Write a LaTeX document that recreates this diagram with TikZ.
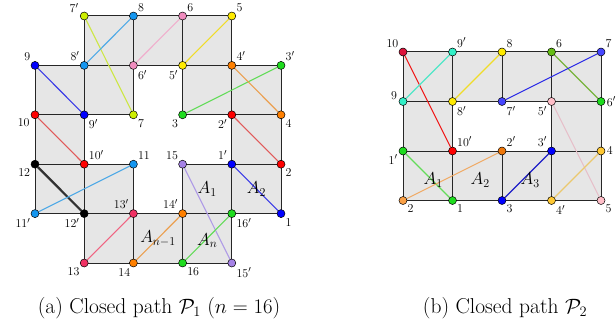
\documentclass[tikz,border=0pt]{standalone}
\usetikzlibrary{backgrounds}
\definecolor{gcell}{RGB}{230,230,230}
\definecolor{cLime}{RGB}{204,238,0}\definecolor{lLime}{RGB}{205,230,70}
\definecolor{cLblue}{RGB}{20,150,240}\definecolor{lLblue}{RGB}{80,170,230}
\definecolor{cPink}{RGB}{240,140,190}\definecolor{lPink}{RGB}{240,175,205}
\definecolor{cYel}{RGB}{255,235,0}\definecolor{lYel}{RGB}{240,220,40}
\definecolor{cBlue}{RGB}{0,0,255}\definecolor{lBlue}{RGB}{60,60,230}
\definecolor{cGreen}{RGB}{30,220,30}\definecolor{lGreen}{RGB}{100,220,90}
\definecolor{cOrange}{RGB}{255,128,0}\definecolor{lOrange}{RGB}{235,160,80}
\definecolor{cRed}{RGB}{255,0,0}\definecolor{lRed}{RGB}{225,90,90}
\definecolor{lBlack}{RGB}{50,50,50}
\definecolor{cCrim}{RGB}{240,50,100}\definecolor{lCrim}{RGB}{240,100,130}
\definecolor{cPurp}{RGB}{165,130,230}\definecolor{lPurp}{RGB}{175,155,230}
\definecolor{cCrimB}{RGB}{220,20,60}\definecolor{lRedB}{RGB}{240,20,20}
\definecolor{cTurq}{RGB}{50,240,200}\definecolor{lTurq}{RGB}{80,230,200}
\definecolor{cOlive}{RGB}{100,190,20}\definecolor{lOlive}{RGB}{120,180,60}
\definecolor{cBlueB}{RGB}{70,70,255}\definecolor{lBlueB}{RGB}{40,40,230}
\definecolor{cPinkL}{RGB}{255,190,200}\definecolor{lPinkL}{RGB}{230,190,200}
\definecolor{cOrD}{RGB}{240,120,10}\definecolor{cOrL}{RGB}{250,160,70}\definecolor{lOrL}{RGB}{240,170,100}
\definecolor{lBlueD}{RGB}{30,30,200}
\definecolor{cGold}{RGB}{255,200,50}\definecolor{lGold}{RGB}{235,200,110}
\begin{document}
\begin{tikzpicture}[x=1pt,y=-1pt,
  vtx/.style={circle,draw=black,line width=0.5pt,minimum size=8pt,inner sep=0pt},
  lab/.style={font=\fontsize{13}{13}\selectfont,inner sep=1.5pt},
  alab/.style={font=\fontsize{17.5}{18}\selectfont,inner sep=0pt},
  cellbox/.style={draw=black!85,fill=gcell,line width=1pt},
  dg/.style={line width=1.1pt},
  captext/.style={font=\fontsize{21.5}{24}\selectfont,anchor=base,inner sep=0pt}]
\useasboundingbox (0,0) rectangle (616,329);
% ---------------- left figure ----------------
\begin{scope}[shift={(35pt,-16pt)},x=49.2pt,y=-49.4pt]
\node[vtx,fill=cLime,label={[lab]158:$7'$}] (a7p) at (1,0) {};
\node[vtx,fill=cLblue,label={[lab]45:$8$}] (a8) at (2,0) {};
\node[vtx,fill=cPink,label={[lab]45:$6$}] (a6) at (3,0) {};
\node[vtx,fill=cYel,label={[lab]45:$5$}] (a5) at (4,0) {};
\node[vtx,fill=cBlue,label={[lab]135:$9$}] (a9) at (0,1) {};
\node[vtx,fill=cLblue,label={[lab]135:$8'$}] (a8p) at (1,1) {};
\node[vtx,fill=cPink,label={[lab]-45:$6'$}] (a6p) at (2,1) {};
\node[vtx,fill=cYel,label={[lab]-135:$5'$}] (a5p) at (3,1) {};
\node[vtx,fill=cOrange,label={[lab]45:$4'$}] (a4p) at (4,1) {};
\node[vtx,fill=cGreen,label={[lab]45:$3'$}] (a3p) at (5,1) {};
\node[vtx,fill=cRed,label={[lab]-150:$10$}] (a10) at (0,2) {};
\node[vtx,fill=cBlue,label={[lab]-45:$9'$}] (a9p) at (1,2) {};
\node[vtx,fill=cLime,label={[lab]-45:$7$}] (a7) at (2,2) {};
\node[vtx,fill=cGreen,label={[lab]-135:$3$}] (a3) at (3,2) {};
\node[vtx,fill=cRed,label={[lab]-135:$2'$}] (a2p) at (4,2) {};
\node[vtx,fill=cOrange,label={[lab]-45:$4$}] (a4) at (5,2) {};
\node[vtx,fill=black,label={[lab]-140:$12$}] (a12) at (0,3) {};
\node[vtx,fill=cRed,label={[lab]45:$10'$}] (a10p) at (1,3) {};
\node[vtx,fill=cLblue,label={[lab]45:$11$}] (a11) at (2,3) {};
\node[vtx,fill=cPurp,label={[lab]135:$15$}] (a15) at (3,3) {};
\node[vtx,fill=cBlue,label={[lab]135:$1'$}] (a1p) at (4,3) {};
\node[vtx,fill=cRed,label={[lab]-45:$2$}] (a2) at (5,3) {};
\node[vtx,fill=cLblue,label={[lab]-135:$11'$}] (a11p) at (0,4) {};
\node[vtx,fill=black,label={[lab]-135:$12'$}] (a12p) at (1,4) {};
\node[vtx,fill=cCrim,label={[lab]135:$13'$}] (a13p) at (2,4) {};
\node[vtx,fill=cOrange,label={[lab]135:$14'$}] (a14p) at (3,4) {};
\node[vtx,fill=cGreen,label={[lab]-45:$16'$}] (a16p) at (4,4) {};
\node[vtx,fill=cBlue,label={[lab]-45:$1$}] (a1) at (5,4) {};
\node[vtx,fill=cCrim,label={[lab]-135:$13$}] (a13) at (1,5) {};
\node[vtx,fill=cOrange,label={[lab]-110:$14$}] (a14) at (2,5) {};
\node[vtx,fill=cGreen,label={[lab]-45:$16$}] (a16) at (3,5) {};
\node[vtx,fill=cPurp,label={[lab]-45:$15'$}] (a15p) at (4,5) {};
\node[alab] (A1) at (3.5,3.5) {$A_1$};
\node[alab] (A2) at (4.5,3.5) {$A_2$};
\node[alab] (Anm) at (2.5,4.5) {$A_{n-1}$};
\node[alab] (An) at (3.5,4.55) {$A_n$};
\begin{pgfonlayer}{background}
\foreach \i/\j in {1/0,2/0,3/0,0/1,1/1,3/1,4/1,0/2,4/2,0/3,1/3,3/3,4/3,1/4,2/4,3/4}
  \draw[cellbox] (\i,\j) rectangle ++(1,1);
\draw[dg,lLime] (a7p) -- (a7);
\draw[dg,lLblue] (a8) -- (a8p);
\draw[dg,lPink] (a6) -- (a6p);
\draw[dg,lYel] (a5) -- (a5p);
\draw[dg,lBlue] (a9) -- (a9p);
\draw[dg,lGreen] (a3p) -- (a3);
\draw[dg,lOrange] (a4p) -- (a4);
\draw[dg,lRed] (a10) -- (a10p);
\draw[dg,lRed] (a2p) -- (a2);
\draw[line width=2.2pt,lBlack] (a12) -- (a12p);
\draw[dg,lLblue] (a11) -- (a11p);
\draw[dg,lBlue] (a1p) -- (a1);
\draw[dg,lPurp] (a15) -- (a15p);
\draw[dg,lCrim] (a13p) -- (a13);
\draw[dg,lOrange] (a14p) -- (a14);
\draw[dg,lGreen] (a16p) -- (a16);
\end{pgfonlayer}
\end{scope}
% ---------------- right figure ----------------
\begin{scope}[shift={(403pt,-52pt)},x=49.5pt,y=-49.5pt]
\node[vtx,fill=cCrimB,label={[lab]135:$10$}] (b10) at (0,0) {};
\node[vtx,fill=cTurq,label={[lab]45:$9'$}] (b9p) at (1,0) {};
\node[vtx,fill=cYel,label={[lab]45:$8$}] (b8) at (2,0) {};
\node[vtx,fill=cOlive,label={[lab]45:$6$}] (b6) at (3,0) {};
\node[vtx,fill=cBlueB,label={[lab]45:$7$}] (b7) at (4,0) {};
\node[vtx,fill=cTurq,label={[lab]170:$9$}] (b9) at (0,1) {};
\node[vtx,fill=cYel,label={[lab]-45:$8'$}] (b8p) at (1,1) {};
\node[vtx,fill=cBlueB,label={[lab]-45:$7'$}] (b7p) at (2,1) {};
\node[vtx,fill=cPinkL,label={[lab]-135:$5'$}] (b5p) at (3,1) {};
\node[vtx,fill=cGreen,label={[lab]0:$6'$}] (b6p) at (4,1) {};
\node[vtx,fill=cGreen,label={[lab]-150:$1'$}] (b1p) at (0,2) {};
\node[vtx,fill=cRed,label={[lab]45:$10'$}] (b10p) at (1,2) {};
\node[vtx,fill=cOrD,label={[lab]45:$2'$}] (b2p) at (2,2) {};
\node[vtx,fill=cBlue,label={[lab]135:$3'$}] (b3p) at (3,2) {};
\node[vtx,fill=cGold,label={[lab]0:$4$}] (b4) at (4,2) {};
\node[vtx,fill=cOrL,label={[lab]-45:$2$}] (b2) at (0,3) {};
\node[vtx,fill=cGreen,label={[lab]-45:$1$}] (b1) at (1,3) {};
\node[vtx,fill=cBlue,label={[lab]-45:$3$}] (b3) at (2,3) {};
\node[vtx,fill=cGold,label={[lab]-45:$4'$}] (b4p) at (3,3) {};
\node[vtx,fill=cPinkL,label={[lab]-45:$5$}] (b5) at (4,3) {};
\node[alab] (B1) at (0.61,2.59) {$A_1$};
\node[alab] (B2) at (1.56,2.59) {$A_2$};
\node[alab] (B3) at (2.57,2.59) {$A_3$};
\begin{pgfonlayer}{background}
\foreach \i/\j in {0/0,1/0,2/0,3/0,0/1,3/1,0/2,1/2,2/2,3/2}
  \draw[cellbox] (\i,\j) rectangle ++(1,1);
\draw[dg,lRedB] (b10) -- (b10p);
\draw[dg,lTurq] (b9p) -- (b9);
\draw[dg,lYel] (b8) -- (b8p);
\draw[dg,lOlive] (b6) -- (b6p);
\draw[dg,lBlueB] (b7) -- (b7p);
\draw[dg,lPinkL] (b5p) -- (b5);
\draw[dg,lGreen] (b1p) -- (b1);
\draw[dg,lOrL] (b2p) -- (b2);
\draw[dg,lBlueD] (b3p) -- (b3);
\draw[dg,lGold] (b4) -- (b4p);
\end{pgfonlayer}
\end{scope}
% ---------------- captions ----------------
\node[captext] (capa) at (159,313.5) {(a) Closed path $\mathcal{P}_1$ ($n=16$)};
\node[captext] (capb) at (505,313.5) {(b) Closed path $\mathcal{P}_2$};
\end{tikzpicture}
\end{document}
